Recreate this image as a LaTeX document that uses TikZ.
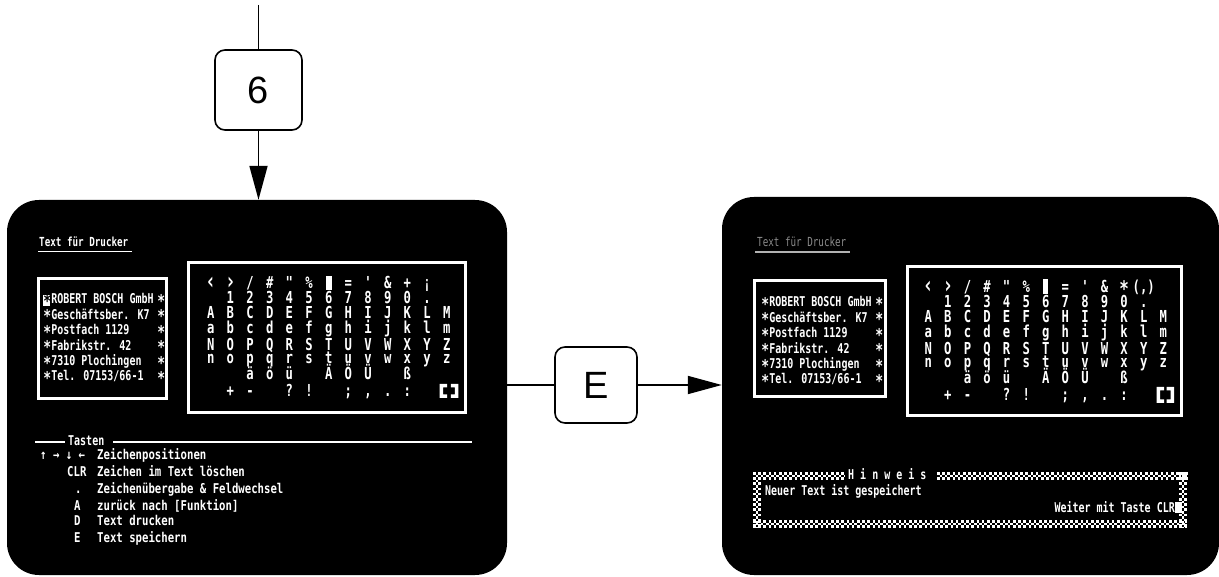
\documentclass[tikz,border=0pt]{standalone}
\usepackage{fontspec}
\newfontfamily\scrA[FakeStretch=0.74]{DejaVu Sans Mono}
\newfontfamily\scrB[FakeStretch=0.79]{DejaVu Sans Mono}
\newfontfamily\lab{Liberation Sans}
\usetikzlibrary{arrows.meta}
\newcommand\scrast{\makebox[0.602em][c]{\raisebox{-3.6pt}{\scalebox{1.3}{*}}}}
\newcommand\bigang[1]{\raisebox{-0.5pt}{\scalebox{1.45}{#1}}}
\newcommand\crow[4]{\foreach \c [count=\i] in {#4} {\node[ch] at ({#1+(\i-1)*#2},#3) {\c};}}
\newcommand\chkh[3]{%
 \draw[chk] (#1,#3+1.3) -- (#2,#3+1.3);
 \draw[chk,dash phase=2.6pt] (#1,#3+3.9) -- (#2,#3+3.9);
 \draw[chk] (#1,#3+6.5) -- (#2,#3+6.5);}
\newcommand\chkv[3]{%
 \draw[chk] (#1+1.3,#2) -- (#1+1.3,#3);
 \draw[chk,dash phase=2.6pt] (#1+3.9,#2) -- (#1+3.9,#3);
 \draw[chk] (#1+6.5,#2) -- (#1+6.5,#3);}
\begin{document}
\begin{tikzpicture}[x=1pt,y=-1pt,
  screen/.style={fill=black,draw=none,rounded corners=32pt,inner sep=0},
  keybox/.style={draw=black,fill=white,line width=1.6pt,rounded corners=10pt,inner sep=0,font=\lab\fontsize{38}{38}\selectfont},
  conn/.style={line width=1.8pt,draw=black},
  arr/.style={conn,-{Triangle[length=34pt,width=18pt]}},
  ch/.style={text=white,anchor=base,inner sep=0,font={\scrA\bfseries\fontsize{16.5pt}{18pt}\selectfont}},
  txt/.style={text=white,anchor=base west,inner sep=0,font={\scrA\bfseries\fontsize{13.5pt}{15pt}\selectfont}},
  txtb/.style={text=white,anchor=base west,inner sep=0,font={\scrB\bfseries\fontsize{13.5pt}{15pt}\selectfont}},
  ttl/.style={anchor=base west,inner sep=0,font={\scrA\fontsize{12.5pt}{15pt}\selectfont}},
  frame/.style={draw=white,line width=3pt},
  chk/.style={white,line width=2.6pt,dash pattern=on 2.6pt off 2.6pt}]
\useasboundingbox (0,0) rectangle (1219,577);
\fill[white] (0,0) rectangle (1219,577);

% screens
\node[screen,minimum width=500pt,minimum height=375pt] (s1) at (257,387.5) {};
\node[screen,minimum width=497pt,minimum height=378pt] (s2) at (970.5,386) {};

% key boxes and connectors
\coordinate (top) at (258.5,5);
\node[keybox,minimum width=87pt,minimum height=80pt] (b6) at (258.5,90) {6};
\node[keybox,minimum width=82pt,minimum height=76pt] (bE) at (596,385) {E};
\draw[conn] (top) -- (b6.north);
\draw[arr] (b6.south) -- (b6.south |- s1.north);
\draw[conn] (bE.west -| s1.east) -- (bE.west);
\draw[arr] (bE.east) -- (bE.east -| s2.west);

% ---------------- left screen ----------------
\node[ttl,text=white,font={\scrA\bfseries\fontsize{12.5pt}{15pt}\selectfont}] (t1) at (39,247) {Text für Drucker};
\draw[white,line width=1.6pt] (38,251.5) -- (132,251.5);

\draw[frame] (38.5,278.5) rectangle (166.5,398.5);
\fill[white] (43,295) rectangle (49.5,306);
\foreach \t [count=\i] in {{\color{black}\scrast}ROBERT BOSCH GmbH,\scrast Geschäftsber. K7,\scrast Postfach 1129,\scrast Fabrikstr. 42,\scrast 7310 Plochingen,\scrast Tel. 07153/66-1}
  {\node[txt] at (43,{304+(\i-1)*15.4}) {\t};
   \node[txt] at (157,{304+(\i-1)*15.4}) {\scrast};}

\draw[frame] (188.5,262.5) rectangle (465.5,412.5);
\crow{210.7}{19.67}{289}{\bigang{‹},\bigang{›},/,\#,",\%,{},=,',\&,+,¡}
\fill[white] (325.7,275.7) rectangle (332.3,290);
\crow{210.7}{19.67}{304}{{},1,2,3,4,5,6,7,8,9,0,.}
\crow{210.7}{19.67}{319}{A,B,C,D,E,F,G,H,I,J,K,L,M}
\crow{210.7}{19.67}{334}{a,b,c,d,e,f,g,h,i,j,k,l,m}
\crow{210.7}{19.67}{350.5}{N,O,P,Q,R,S,T,U,V,W,X,Y,Z}
\crow{210.7}{19.67}{364}{n,o,p,q,r,s,t,u,v,w,x,y,z}
\crow{210.7}{19.67}{380}{{},{},ä,ö,ü,{},Ä,Ö,Ü,{},ß}
\crow{210.7}{19.67}{396}{{},+,-,{},?,!,{},;,{,},.,:}
\fill[white] (439.5,384) -- (447,384) -- (447,387.5) -- (443,387.5) -- (443,394.5) -- (447,394.5) -- (447,398) -- (439.5,398) -- cycle;
\fill[white] (458.3,384) -- (450.8,384) -- (450.8,387.5) -- (454.8,387.5) -- (454.8,394.5) -- (450.8,394.5) -- (450.8,398) -- (458.3,398) -- cycle;

\draw[white,line width=1.2pt] (35,442) -- (65,442);
\node[txt] at (68,445.5) {Tasten};
\draw[white,line width=1.2pt] (113,442) -- (472,442);
\node[txtb] at (40,459) {↑ → ↓ ←};
\node[txtb] at (67,476.5) {CLR};
\node[txtb] at (75,493) {.};
\node[txtb] at (74,510) {A};
\node[txtb] at (74,525.5) {D};
\node[txtb] at (74,542) {E};
\node[txtb] at (97,459) {Zeichenpositionen};
\node[txtb] at (97,476.5) {Zeichen im Text löschen};
\node[txtb] at (97,493) {Zeichenübergabe \& Feldwechsel};
\node[txtb] at (97,510) {zurück nach [Funktion]};
\node[txtb] at (97,525.5) {Text drucken};
\node[txtb] at (97,542) {Text speichern};

% ---------------- right screen ----------------
\node[ttl,text=white!55!black] (t2) at (757,247) {Text für Drucker};
\draw[white!70!black,line width=1.5pt] (755,252) -- (850,252);

\draw[frame] (754.5,280.5) rectangle (885.5,396.5);
\foreach \t [count=\i] in {\scrast ROBERT BOSCH GmbH,\scrast Geschäftsber. K7,\scrast Postfach 1129,\scrast Fabrikstr. 42,\scrast 7310 Plochingen,\scrast Tel. 07153/66-1}
  {\node[txt] at (761,{307+(\i-1)*15.4}) {\t};
   \node[txt] at (875,{307+(\i-1)*15.4}) {\scrast};}

\draw[frame] (907.5,266.5) rectangle (1181.5,415.5);
\crow{928.3}{19.58}{293}{\bigang{‹},\bigang{›},/,\#,",\%,{},=,',\&,{\scrast},(,)}
\fill[white] (1042.7,279) rectangle (1048.3,294);
\crow{928.3}{19.58}{308}{{},1,2,3,4,5,6,7,8,9,0,.}
\crow{928.3}{19.58}{323}{A,B,C,D,E,F,G,H,I,J,K,L,M}
\crow{928.3}{19.58}{338}{a,b,c,d,e,f,g,h,i,j,k,l,m}
\crow{928.3}{19.58}{354.5}{N,O,P,Q,R,S,T,U,V,W,X,Y,Z}
\crow{928.3}{19.58}{368}{n,o,p,q,r,s,t,u,v,w,x,y,z}
\crow{928.3}{19.58}{384}{{},{},ä,ö,ü,{},Ä,Ö,Ü,{},ß}
\crow{928.3}{19.58}{400}{{},+,-,{},?,!,{},;,{,},.,:}
\fill[white] (1156.7,387) -- (1164,387) -- (1164,390.5) -- (1160.2,390.5) -- (1160.2,399.5) -- (1164,399.5) -- (1164,403) -- (1156.7,403) -- cycle;
\fill[white] (1174,387) -- (1166.7,387) -- (1166.7,390.5) -- (1170.5,390.5) -- (1170.5,399.5) -- (1166.7,399.5) -- (1166.7,403) -- (1174,403) -- cycle;

% Hinweis box
\chkh{753}{845}{472}
\chkh{937}{1187}{472}
\chkh{753}{1187}{520}
\chkv{753}{472}{528}
\chkv{1179}{472}{528}
\node[txt] at (848,479.5) {H i n w e i s};
\node[txt] at (765,495) {Neuer Text ist gespeichert};
\node[txt,anchor=base east] at (1175,512) {Weiter mit Taste CLR};
\fill[white] (1175,502) rectangle (1182,513);
\end{tikzpicture}
\end{document}
